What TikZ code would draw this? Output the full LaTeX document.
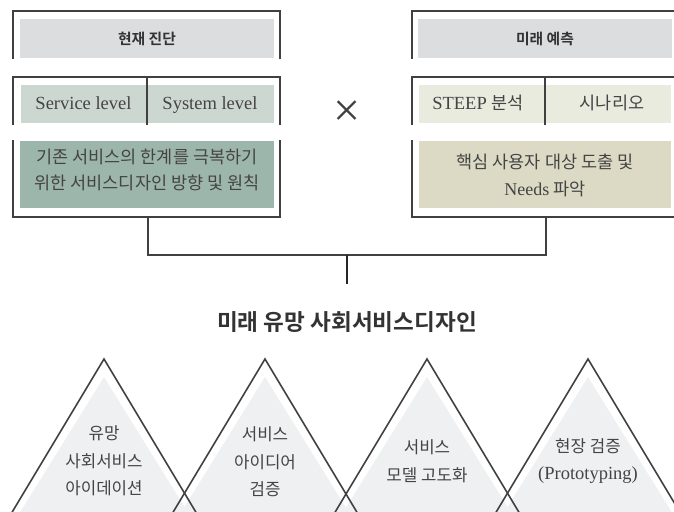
\documentclass[tikz,border=0pt]{standalone}
\usepackage{fontspec}
\setmainfont{Liberation Serif}
\newfontfamily\kr{Noto Sans CJK KR}[BoldFont={Noto Sans CJK KR Bold}]

\definecolor{frameline}{HTML}{404040}
\definecolor{headgray}{HTML}{DCDDDF}
\definecolor{nowlight}{HTML}{CDD7D1}
\definecolor{nowdeep}{HTML}{9DB6AB}
\definecolor{futlight}{HTML}{EAEBDF}
\definecolor{futdeep}{HTML}{DCDAC4}
\definecolor{trifill}{HTML}{EFF0F1}
\definecolor{inktext}{HTML}{444444}

\begin{document}
\begin{tikzpicture}[x=1pt,y=-1pt,
    frame/.style={draw=frameline,line width=2pt},
    cell/.style={inner sep=0pt,minimum width=126pt,minimum height=38pt,text height=13pt,text depth=4pt,text=inktext,font=\fontsize{18.5}{20}\selectfont},
    head/.style={inner sep=0pt,fill=headgray,minimum width=254pt,minimum height=39pt,text=black!80,font=\kr\bfseries\fontsize{14.8}{16}\selectfont},
    body/.style={inner sep=0pt,minimum width=254pt,minimum height=67pt,text=inktext,font=\kr\fontsize{17.5}{26}\selectfont},
    tri/.style={draw=frameline,line width=1.6pt},
    tritext/.style={align=center,text=inktext,font=\kr\fontsize{16.8}{27.5}\selectfont},
    link/.style={draw=frameline,line width=2pt}]

    \useasboundingbox (0,0) rectangle (674,511);
    \clip (0,0) rectangle (674,511);

    % left column: present diagnosis
    \node[head] (nowhead) at (147,38.5) {현재 진단};
    \node[cell,fill=nowlight] (service) at (83.5,104) {};
    \node[cell,fill=nowlight,minimum width=128pt] (system) at (210,104) {};
    \node[cell] (servicetext) at (83.5,104.5) {Service level};
    \node[cell] (systemtext) at (210,104.5) {System level};
    \node[body,fill=nowdeep] (nowbody) at (147,174.5) {};
    \node[body,align=center,minimum height=0pt] (nowtext) at (147,170) {기존 서비스의 한계를 극복하기\\위한 서비스디자인 방향 및 원칙};
    \draw[frame] (13,59) -- (13,11) -- (280,11) -- (280,59);
    \draw[frame] (13,125) -- (13,77) -- (280,77) -- (280,125);
    \draw[frame] (146.5,77) -- (146.5,125);
    \draw[frame] (13,140) -- (13,217) -- (280,217) -- (280,140);

    \node[text=frameline,font=\fontsize{48}{48}\selectfont] (times) at (347,114) {×};

    % right column: future forecast
    \node[head,fill=headgray] (futhead) at (545,38.5) {미래 예측};
    \node[cell,fill=futlight] (steep) at (482,104) {};
    \node[cell,fill=futlight] (scenario) at (608,104) {};
    \node[cell] (steeptext) at (478,104.5) {STEEP {\kr\fontsize{17.5}{20}\selectfont 분석}};
    \node[cell,font=\kr\fontsize{17.5}{20}\selectfont] (scenariotext) at (612,104.5) {시나리오};
    \node[body,fill=futdeep,minimum width=252pt] (futbody) at (545,174.5) {};
    \node[body,align=center,minimum height=0pt,font=\kr\fontsize{17.5}{27}\selectfont] (futtext) at (545,175.5) {핵심 사용자 대상 도출 및\\{\rmfamily\fontsize{18}{27}\selectfont Needs} 파악};
    \draw[frame] (412,59) -- (412,11) -- (679,11) -- (679,59);
    \draw[frame] (412,125) -- (412,77) -- (679,77) -- (679,125);
    \draw[frame] (545,77) -- (545,125);
    \draw[frame] (412,140) -- (412,217) -- (679,217) -- (679,140);

    % bracket to the result
    \coordinate (nowfoot) at (148,217);
    \coordinate (futfoot) at (546,217);
    \coordinate (joint) at (347,255);
    \coordinate (stemend) at (347,284);
    \path[link] (nowfoot) |- (joint) -| (futfoot);
    \path[link,draw=black!85,line width=2.4pt] (joint) -- (stemend);

    \node[text=black!80,font=\kr\bfseries\fontsize{22.6}{24}\selectfont] (result) at (347,322) {미래 유망 사회서비스디자인};

    % four stages
    \foreach \x in {104,265,427,588} {
      \fill[trifill] (\x,377) -- (\x+94.9,530) -- (\x-94.9,530) -- cycle;
    }
    \foreach \x in {104,265,427,588} {
      \draw[tri] (\x,359) -- (\x+102.6,530) -- (\x-102.6,530) -- cycle;
    }
    \node[tritext] (ideation) at (104,461) {유망\\사회서비스\\아이데이션};
    \node[tritext] (verify) at (265,462) {서비스\\아이디어\\검증};
    \node[tritext] (model) at (427,461) {서비스\\모델 고도화};
    \node[tritext] (proto) at (588,461) {현장 검증\\{\rmfamily\fontsize{18.5}{27.5}\selectfont (Prototyping)}};
  \end{tikzpicture}
\end{document}
